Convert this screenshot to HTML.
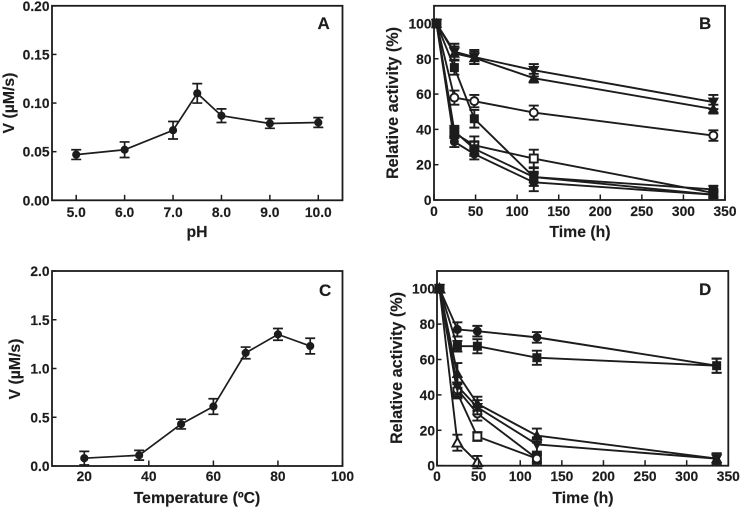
<!DOCTYPE html>
<html>
<head>
<meta charset="utf-8">
<title>Enzyme activity panels</title>
<style>
html,body{margin:0;padding:0;background:#fff;width:740px;height:507px;overflow:hidden}
svg{display:block;filter:blur(0.3px)}
text{font-family:"Liberation Sans",Arial,sans-serif;font-weight:bold;fill:#1c1c1c;stroke:#1c1c1c;stroke-width:0.15px}
</style>
</head>
<body>
<svg id="figure" xmlns="http://www.w3.org/2000/svg" width="740" height="507" viewBox="0 0 740 507"></svg>
<script>
// Panel A
const phValues = [5, 6, 7, 7.5, 8, 9, 10];
const panelAActivity = [0.047, 0.052, 0.072, 0.110, 0.087, 0.079, 0.080];
const panelAErrors = [0.005, 0.008, 0.009, 0.010, 0.007, 0.005, 0.005];
const panelAXTicks = [5, 6, 7, 8, 9, 10];
const panelAXLabels = ["5.0", "6.0", "7.0", "8.0", "9.0", "10.0"];
const panelAYTicks = [0, 0.05, 0.10, 0.15, 0.20];
const panelAYLabels = ["0.00", "0.05", "0.10", "0.15", "0.20"];

// Panel C
const temperatures = [20, 37, 50, 60, 70, 80, 90];
const panelCActivity = [0.08, 0.11, 0.43, 0.61, 1.16, 1.35, 1.23];
const panelCErrors = [0.07, 0.05, 0.05, 0.08, 0.06, 0.06, 0.08];
const panelCXTicks = [20, 40, 60, 80, 100];
const panelCYTicks = [0, 0.5, 1.0, 1.5, 2.0];
const panelCYLabels = ["0.0", "0.5", "1.0", "1.5", "2.0"];

// Shared time axes for B and D
const timeHours = [3, 24.5, 48.5, 120, 336];
const timeXTicks = [0, 50, 100, 150, 200, 250, 300, 350];
const percentYTicks = [0, 20, 40, 60, 80, 100];

// Panel B series
const panelBInvTriangle = [100, 84, 81, 73.5, 55.5];
const panelBInvTriangleErr = [0, 4.5, 4, 3.5, 4];
const panelBTriangle = [100, 83, 80.5, 69, 51.5];
const panelBTriangleErr = [0, 4, 3.5, 2.5, 2.5];
const panelBOpenCircle = [100, 58, 56, 49.5, 36.5];
const panelBOpenCircleErr = [0, 4, 3.5, 4, 3];
const panelBSquare = [100, 75, 46, 13, 6];
const panelBSquareErr = [0, 4, 5, 5, 2];
const panelBSquareLow = [100, 39, 29, 13, 3];
const panelBSquareLowErr = [0, 3, 4, 3, 2];
const panelBOpenSquare = [100, 38, 31, 23.5, 4];
const panelBOpenSquareErr = [0, 3, 5, 5, 2];
const panelBCircle = [100, 33, 26, 10, 3];
const panelBCircleErr = [0, 3, 3, 5, 2];

// Panel D series
const panelDCircle = [100, 77, 76, 72.5, 56.5];
const panelDCircleErr = [0, 4, 3, 3, 4];
const panelDSquare = [100, 67.5, 67.5, 61, 56.5];
const panelDSquareErr = [0, 3, 4, 4, 4];
const panelDTriangle = [100, 52, 35, 17, 4];
const panelDTriangleErr = [0, 6, 4, 4, 3];
const panelDInvTriangle = [100, 45, 33, 12, 4];
const panelDInvTriangleErr = [0, 5, 4, 4, 3];
const panelDOpenCircle = [100, 43, 29.5, 4];
const panelDOpenCircleErr = [0, 4, 4, 2];
const panelDOpenSquare = [100, 41, 16.5, 4];
const panelDOpenSquareErr = [0, 3, 2.5, 3];
const panelDOpenTriangle = [100, 13, 2];
const panelDOpenTriangleErr = [0, 4.5, 3.5];

const NS = "http://www.w3.org/2000/svg";
const INK = "#1c1c1c";
const root = document.getElementById("figure");

function shapeEl(tag, attrs, parent) {
  const el = document.createElementNS(NS, tag);
  for (const k in attrs) el.setAttribute(k, attrs[k]);
  parent.appendChild(el);
  return el;
}

function linearScale(d0, d1, r0, r1) {
  return function (v) { return r0 + (v - d0) * (r1 - r0) / (d1 - d0); };
}

function drawMarker(kind, cx, cy, size, group) {
  const open = kind.indexOf("open") === 0;
  const base = { fill: open ? "#fff" : INK, stroke: INK, "stroke-width": open ? 1.9 : 1 };
  const r = size;
  if (kind.indexOf("circle") >= 0) {
    return shapeEl("circle", Object.assign({ cx: cx, cy: cy, r: r }, base), group);
  }
  if (kind.indexOf("square") >= 0) {
    return shapeEl("rect", Object.assign({ x: cx - r, y: cy - r, width: 2 * r, height: 2 * r }, base), group);
  }
  const t = r * 1.2;
  if (kind.indexOf("invtri") >= 0) {
    return shapeEl("polygon", Object.assign({ points: [cx - t, cy - t * 0.8, cx + t, cy - t * 0.8, cx, cy + t].join(" ") }, base), group);
  }
  return shapeEl("polygon", Object.assign({ points: [cx - t, cy + t * 0.8, cx + t, cy + t * 0.8, cx, cy - t].join(" ") }, base), group);
}

function drawPanel(p) {
  const g = shapeEl("g", {}, root);
  
  

  const sx = linearScale(p.xMin, p.xMax, p.left, p.right);
  const sy = linearScale(p.yMin, p.yMax, p.bottom, p.top);

  p.series.forEach(function (s) {
    const sg = shapeEl("g", {}, g);
    
    
    const pts = s.values.map(function (v, i) { return sx(s.xs[i]) + "," + sy(v); }).join(" ");
    const line = shapeEl("polyline", { points: pts, fill: "none", stroke: INK, "stroke-width": p.lineWidth }, sg);
    
    
    s.values.forEach(function (v, i) {
      const x = sx(s.xs[i]);
      const e = s.errors[i];
      if (e > 0) {
        const bar = shapeEl("path", {
          d: "M" + x + " " + sy(v - e) + "V" + sy(v + e) +
             "M" + (x - p.cap) + " " + sy(v - e) + "H" + (x + p.cap) +
             "M" + (x - p.cap) + " " + sy(v + e) + "H" + (x + p.cap),
          fill: "none", stroke: INK, "stroke-width": p.lineWidth
        }, sg);
        
        
      }
      const m = drawMarker(s.shape, x, sy(v), p.marker, sg);
      
      
    });
  });

  const frame = shapeEl("rect", {
    x: p.left, y: p.top, width: p.right - p.left, height: p.bottom - p.top,
    fill: "none", stroke: INK, "stroke-width": 1.8
  }, g);
  
  

  p.xTicks.forEach(function (t, i) {
    const x = sx(t);
    const tick = shapeEl("line", { x1: x, x2: x, y1: p.bottom, y2: p.bottom - 5.5, stroke: INK, "stroke-width": 1.5 }, g);
    
    
    const label = shapeEl("text", { x: x, y: p.xLabelY, "text-anchor": "middle", "font-size": 13.8 }, g);
    label.textContent = p.xLabels[i];
    
    
  });

  p.yTicks.forEach(function (t, i) {
    const y = sy(t);
    const tick = shapeEl("line", { x1: p.left, x2: p.left + 4.5, y1: y, y2: y, stroke: INK, "stroke-width": 1.5 }, g);
    
    
    const label = shapeEl("text", { x: p.yLabelX, y: y + 5, "text-anchor": "end", "font-size": 13.8 }, g);
    label.textContent = p.yLabels[i];
    
    
  });

  const xTitle = shapeEl("text", { x: p.xTitleX, y: p.xTitleY, "text-anchor": "middle", "font-size": 15.8 }, g);
  xTitle.textContent = p.xTitle;
  
  

  const yTitle = shapeEl("text", {
    x: 0, y: 0, "text-anchor": "middle", "font-size": p.yTitleSize,
    transform: "translate(" + p.yTitleX + " " + p.yTitleY + ") rotate(-90)"
  }, g);
  yTitle.textContent = p.yTitle;
  
  

  const letter = shapeEl("text", { x: p.letterX, y: p.letterY, "font-size": 17 }, g);
  letter.textContent = p.id;
  
  
}

drawPanel({
  id: "A", left: 52, right: 342.5, top: 5.8, bottom: 200.3,
  xMin: 4.5, xMax: 10.5, yMin: 0, yMax: 0.2, cap: 5, marker: 3.6, lineWidth: 1.7,
  xTicks: panelAXTicks, xLabels: panelAXLabels, yTicks: panelAYTicks, yLabels: panelAYLabels,
  xLabelY: 217, yLabelX: 49.5, xTitle: "pH", xTitleX: 197, xTitleY: 237,
  yTitle: "V (\u00B5M/s)", yTitleSize: 15.8, yTitleX: 14, yTitleY: 103, letterX: 317.5, letterY: 29,
  series: [{ name: "ph-activity", shape: "circle", xs: phValues, values: panelAActivity, errors: panelAErrors }]
});

drawPanel({
  id: "B", left: 434, right: 725, top: 5.8, bottom: 200,
  xMin: 0, xMax: 350, yMin: 0, yMax: 110, cap: 5, marker: 4, lineWidth: 1.9,
  xTicks: timeXTicks, xLabels: timeXTicks.map(String), yTicks: percentYTicks, yLabels: percentYTicks.map(String),
  xLabelY: 216, yLabelX: 431.5, xTitle: "Time (h)", xTitleX: 580, xTitleY: 237,
  yTitle: "Relative activity (%)", yTitleSize: 16.2, yTitleX: 398, yTitleY: 103, letterX: 699, letterY: 29,
  series: [
    { name: "open-circle", shape: "open-circle", xs: timeHours, values: panelBOpenCircle, errors: panelBOpenCircleErr },
    { name: "open-square", shape: "open-square", xs: timeHours, values: panelBOpenSquare, errors: panelBOpenSquareErr },
    { name: "inverted-triangle", shape: "invtri", xs: timeHours, values: panelBInvTriangle, errors: panelBInvTriangleErr },
    { name: "triangle", shape: "tri", xs: timeHours, values: panelBTriangle, errors: panelBTriangleErr },
    { name: "circle", shape: "circle", xs: timeHours, values: panelBCircle, errors: panelBCircleErr },
    { name: "square-low", shape: "square", xs: timeHours, values: panelBSquareLow, errors: panelBSquareLowErr },
    { name: "square-mid", shape: "square", xs: timeHours, values: panelBSquare, errors: panelBSquareErr }
  ]
});

drawPanel({
  id: "C", left: 52, right: 342.5, top: 271, bottom: 466,
  xMin: 10, xMax: 100, yMin: 0, yMax: 2, cap: 5, marker: 3.6, lineWidth: 1.7,
  xTicks: panelCXTicks, xLabels: panelCXTicks.map(String), yTicks: panelCYTicks, yLabels: panelCYLabels,
  xLabelY: 481, yLabelX: 49.5, xTitle: "Temperature (\u00BAC)", xTitleX: 197, xTitleY: 503,
  yTitle: "V (\u00B5M/s)", yTitleSize: 15.8, yTitleX: 20, yTitleY: 369, letterX: 319, letterY: 296,
  series: [{ name: "temperature-activity", shape: "circle", xs: temperatures, values: panelCActivity, errors: panelCErrors }]
});

drawPanel({
  id: "D", left: 437, right: 728.3, top: 271, bottom: 465.7,
  xMin: 0, xMax: 350, yMin: 0, yMax: 110, cap: 5, marker: 4, lineWidth: 1.9,
  xTicks: timeXTicks, xLabels: timeXTicks.map(String), yTicks: percentYTicks, yLabels: percentYTicks.map(String),
  xLabelY: 481, yLabelX: 435, xTitle: "Time (h)", xTitleX: 583, xTitleY: 503,
  yTitle: "Relative activity (%)", yTitleSize: 16.2, yTitleX: 402, yTitleY: 368, letterX: 699, letterY: 295,
  series: [
    { name: "open-triangle", shape: "open-tri", xs: timeHours, values: panelDOpenTriangle, errors: panelDOpenTriangleErr },
    { name: "open-square", shape: "open-square", xs: timeHours, values: panelDOpenSquare, errors: panelDOpenSquareErr },
    { name: "open-circle", shape: "open-circle", xs: timeHours, values: panelDOpenCircle, errors: panelDOpenCircleErr },
    { name: "triangle", shape: "tri", xs: timeHours, values: panelDTriangle, errors: panelDTriangleErr },
    { name: "inverted-triangle", shape: "invtri", xs: timeHours, values: panelDInvTriangle, errors: panelDInvTriangleErr },
    { name: "circle", shape: "circle", xs: timeHours, values: panelDCircle, errors: panelDCircleErr },
    { name: "square", shape: "square", xs: timeHours, values: panelDSquare, errors: panelDSquareErr }
  ]
});
</script>
</body>
</html>
